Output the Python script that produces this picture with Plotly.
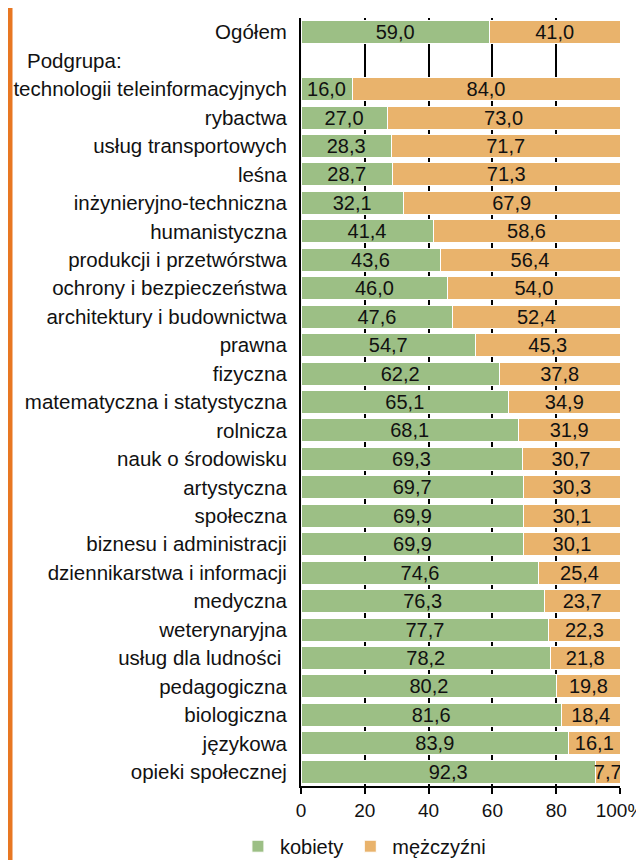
import plotly.graph_objects as go

categories = ["Ogółem", " ", "technologii teleinformacyjnych", "rybactwa", "usług transportowych", "leśna",
              "inżynieryjno-techniczna", "humanistyczna", "produkcji i przetwórstwa",
              "ochrony i bezpieczeństwa", "architektury i budownictwa", "prawna", "fizyczna",
              "matematyczna i statystyczna", "rolnicza", "nauk o środowisku", "artystyczna",
              "społeczna", "biznesu i administracji", "dziennikarstwa i informacji", "medyczna",
              "weterynaryjna", "usług dla ludności ", "pedagogiczna", "biologiczna", "językowa",
              "opieki społecznej"]
kobiety = [59.0, None, 16.0, 27.0, 28.3, 28.7, 32.1, 41.4, 43.6, 46.0, 47.6, 54.7, 62.2, 65.1, 68.1,
           69.3, 69.7, 69.9, 69.9, 74.6, 76.3, 77.7, 78.2, 80.2, 81.6, 83.9, 92.3]
mezczyzni = [41.0, None, 84.0, 73.0, 71.7, 71.3, 67.9, 58.6, 56.4, 54.0, 52.4, 45.3, 37.8, 34.9, 31.9,
             30.7, 30.3, 30.1, 30.1, 25.4, 23.7, 22.3, 21.8, 19.8, 18.4, 16.1, 7.7]
tick_vals = [0, 20, 40, 60, 80, 100]
tick_text = ["0", "20", "40", "60", "80", "100%"]

FONT = "Liberation Sans, Arial, sans-serif"
GREEN = "#9CBF85"
ORANGE = "#E9B36C"

def fmt(v):
    return "" if v is None else f"{v:.1f}".replace(".", ",")

fig = go.Figure()
for name, vals, col in [("kobiety", kobiety, GREEN), ("mężczyźni", mezczyzni, ORANGE)]:
    fig.add_trace(go.Bar(
        y=categories, x=vals, name=name, orientation="h",
        marker=dict(color=col, line=dict(color="white", width=1)),
        text=[fmt(v) for v in vals], textposition="inside", insidetextanchor="middle",
        constraintext="none", textangle=0,
        textfont=dict(family=FONT, size=20, color="#111111"),
        hoverinfo="skip",
    ))

PW = 319.0
PH = 768.0
fig.update_layout(
    barmode="stack", bargap=0.19,
    width=636, height=852,
    margin=dict(l=293, r=24, t=10, b=74, autoexpand=False),
    paper_bgcolor="white", plot_bgcolor="white",
    font=dict(family=FONT, size=20, color="#111111"),
    showlegend=True,
    legend=dict(orientation="h", x=-0.204, xanchor="left", y=-0.053, yanchor="top",
                font=dict(size=20, family=FONT), traceorder="normal", itemwidth=34,
                bgcolor="rgba(0,0,0,0)"),
    xaxis=dict(range=[0, 100], tickvals=tick_vals, ticktext=tick_text,
               showgrid=True, gridcolor="black", gridwidth=1.5,
               showline=True, linecolor="black", linewidth=2,
               ticks="outside", ticklen=6, tickcolor="black", tickwidth=1.5,
               ticklabeloverflow="allow",
               tickfont=dict(size=19, family=FONT), zeroline=False, fixedrange=True),
    yaxis=dict(autorange="reversed", showgrid=False, showline=True, linecolor="black", linewidth=2,
               ticks="", ticklabelstandoff=8, ticklabeloverflow="allow",
               tickfont=dict(size=20.5, family=FONT)),
    shapes=[dict(type="rect", xref="paper", yref="paper",
                 x0=-293 / PW, x1=-288.5 / PW, y0=-74 / PH, y1=1 + 10 / PH,
                 fillcolor="#E87722", line=dict(width=0), layer="below")],
    annotations=[dict(text="Podgrupa:", xref="paper", yref="y", x=-276 / PW, y=" ",
                      xanchor="left", yanchor="middle", showarrow=False,
                      font=dict(size=20.5, family=FONT))],
)

fig.write_html("out.html")
